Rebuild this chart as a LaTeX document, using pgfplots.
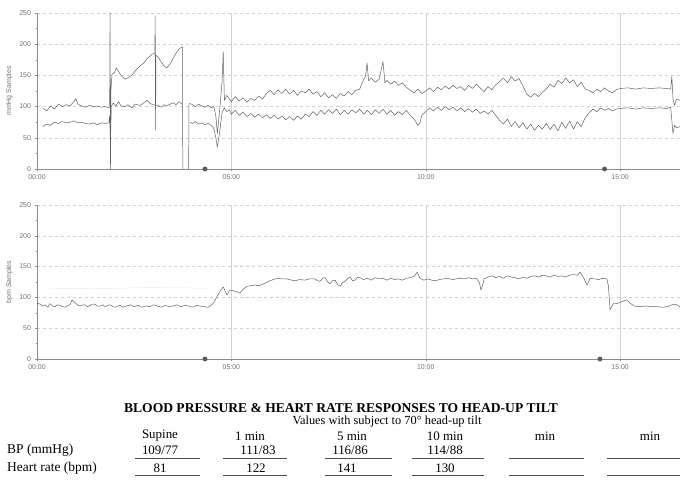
\documentclass[border=0pt]{standalone}
\usepackage{fontspec}
\setmainfont{Liberation Serif}
\newfontfamily\axfont{Liberation Sans}
\usepackage{pgfplots}
\pgfplotsset{compat=1.18}
\definecolor{gridc}{gray}{0.82}
\definecolor{axc}{gray}{0.55}
\definecolor{labc}{gray}{0.45}
\pgfplotsset{
  panel/.style={
    scale only axis, width=643bp, anchor=south west,
    xmin=0, xmax=16.54, ymin=0, ymax=250,
    axis lines*=left,
    axis line style={axc, line width=0.6pt},
    xtick={0,5,10,15},
    ytick={0,50,100,150,200,250},
    minor y tick num=1,
    xmajorgrids, ymajorgrids,
    major x grid style={gridc, line width=0.5pt},
    major y grid style={gridc, dashed, line width=0.5pt},
    tick style={axc, line width=0.5pt},
    tick align=outside,
    major tick length=2.5bp, minor tick length=1.5bp,
    tick label style={font=\axfont\fontsize{7}{8}\selectfont, text=labc},
    /pgf/number format/assume math mode=true,
    ylabel style={font=\axfont\fontsize{7}{8}\selectfont, text=labc},
    clip=false,
  },
  dline/.style={black!62, line width=0.5pt, line join=round},
}
\begin{document}
\begin{tikzpicture}
\path[use as bounding box] (0,0) rectangle (687bp,486bp);
% ---------------- top panel: blood pressure ----------------
\begin{axis}[panel, at={(37bp,317bp)}, height=156bp,
  xticklabels={00:00,05:00,10:00,15:00}, ylabel={mmHg Samples}]
% systolic, first segment
\addplot[dline] coordinates {(0.15,98)(0.25,93)(0.35,101)(0.45,96)(0.55,104)(0.65,100)(0.75,103)(0.85,101)(0.95,108)(1.0,113)(1.05,104)(1.15,101)(1.25,99)(1.35,102)(1.45,100)(1.55,101)(1.65,99)(1.75,100)(1.85,98)(1.87,110)(1.88,250)(1.89,0)(1.90,125)(1.93,152)(2.0,155)(2.04,162)(2.08,158)(2.16,150)(2.26,144)(2.34,146)(2.44,150)(2.52,157)(2.65,165)(2.75,170)(2.83,177)(2.91,181)(2.98,185)(3.03,184)(3.04,245)(3.05,62)(3.06,182)(3.11,180)(3.19,172)(3.27,165)(3.34,162)(3.42,168)(3.50,177)(3.58,186)(3.65,192)(3.73,196)(3.745,195)(3.75,0)};
% diastolic, first segment
\addplot[dline] coordinates {(0.15,68)(0.25,72)(0.35,70)(0.45,75)(0.55,73)(0.65,76)(0.75,74)(0.85,75)(0.95,77)(1.05,74)(1.15,75)(1.25,73)(1.35,72)(1.45,74)(1.55,71)(1.65,74)(1.75,73)(1.85,74)(1.87,85)(1.89,35)(1.91,100)(1.96,106)(2.03,101)(2.1,108)(2.16,101)(2.26,100)(2.34,103)(2.44,98)(2.52,104)(2.65,102)(2.75,106)(2.83,110)(2.91,105)(2.98,103)(3.11,102)(3.19,99)(3.27,103)(3.34,101)(3.42,104)(3.50,106)(3.58,103)(3.65,108)(3.73,104)};
% systolic, second segment
\addplot[dline] coordinates {(3.90,0)(3.91,104)(3.94,105)(4.0,103)(4.08,100)(4.16,104)(4.24,101)(4.32,99)(4.40,102)(4.48,98)(4.55,100)(4.60,85)(4.64,57)(4.70,95)(4.76,140)(4.79,188)(4.82,110)(4.88,118)(4.95,112)(5.0,108)(5.1,116)(5.2,109)(5.3,114)(5.4,107)(5.5,113)(5.6,110)(5.7,117)(5.8,112)(5.9,121)(6.0,126)(6.1,119)(6.2,127)(6.3,121)(6.4,128)(6.5,120)(6.6,126)(6.7,118)(6.8,125)(6.9,122)(7.0,128)(7.1,120)(7.2,124)(7.3,116)(7.4,122)(7.5,114)(7.6,119)(7.7,113)(7.8,121)(7.9,117)(8.0,124)(8.1,119)(8.2,126)(8.3,128)(8.4,143)(8.45,148)(8.49,170)(8.53,141)(8.6,146)(8.7,139)(8.8,144)(8.9,172)(8.95,138)(9.0,142)(9.1,136)(9.2,141)(9.3,134)(9.4,138)(9.5,131)(9.6,126)(9.7,122)(9.8,128)(9.9,121)(10.0,125)(10.1,130)(10.2,124)(10.3,131)(10.4,127)(10.5,133)(10.6,128)(10.7,134)(10.8,129)(10.9,132)(11.0,126)(11.1,134)(11.2,129)(11.3,136)(11.4,130)(11.5,124)(11.6,132)(11.7,127)(11.8,135)(11.9,140)(12.0,146)(12.1,138)(12.2,148)(12.3,141)(12.4,145)(12.5,133)(12.6,120)(12.7,115)(12.8,121)(12.9,116)(13.0,123)(13.1,128)(13.2,136)(13.3,131)(13.4,142)(13.5,137)(13.6,146)(13.7,138)(13.8,143)(13.9,132)(14.0,139)(14.1,128)(14.2,126)(14.3,122)(14.4,128)(14.5,124)(14.6,130)(14.7,125)(14.8,122)(14.9,127)(15.0,129)(15.2,130)(15.4,128)(15.6,130)(15.8,129)(16.0,130)(16.2,129)(16.3,128)(16.33,148)(16.36,113)(16.4,102)(16.45,112)(16.54,110)};
% diastolic, second segment
\addplot[dline] coordinates {(3.94,75)(4.0,73)(4.08,76)(4.16,72)(4.24,74)(4.32,71)(4.40,73)(4.48,70)(4.55,65)(4.60,50)(4.64,35)(4.70,60)(4.76,90)(4.82,98)(4.88,92)(4.95,95)(5.0,88)(5.1,94)(5.2,86)(5.3,91)(5.4,84)(5.5,89)(5.6,83)(5.7,88)(5.8,82)(5.9,87)(6.0,81)(6.1,86)(6.2,80)(6.3,85)(6.4,79)(6.5,84)(6.6,78)(6.7,85)(6.8,80)(6.9,88)(7.0,84)(7.1,92)(7.2,86)(7.3,94)(7.4,88)(7.5,95)(7.6,89)(7.7,96)(7.8,87)(7.9,94)(8.0,88)(8.1,95)(8.2,90)(8.3,96)(8.4,88)(8.5,94)(8.6,87)(8.7,95)(8.8,89)(8.9,96)(9.0,88)(9.1,94)(9.2,86)(9.3,92)(9.4,87)(9.5,94)(9.6,86)(9.7,80)(9.8,70)(9.85,74)(9.9,86)(10.0,92)(10.1,98)(10.2,93)(10.3,99)(10.4,94)(10.5,100)(10.6,95)(10.7,99)(10.8,93)(10.9,98)(11.0,92)(11.1,97)(11.2,91)(11.3,96)(11.4,89)(11.5,93)(11.6,88)(11.7,94)(11.8,86)(11.9,78)(12.0,72)(12.1,80)(12.2,68)(12.3,76)(12.4,66)(12.5,74)(12.6,64)(12.7,72)(12.8,62)(12.9,70)(13.0,64)(13.1,73)(13.2,63)(13.3,72)(13.4,61)(13.5,75)(13.6,65)(13.7,77)(13.8,64)(13.9,76)(14.0,68)(14.1,82)(14.2,90)(14.3,96)(14.4,92)(14.5,98)(14.6,94)(14.7,97)(14.8,93)(14.9,96)(15.0,97)(15.2,98)(15.4,96)(15.6,98)(15.8,97)(16.0,98)(16.2,97)(16.3,99)(16.36,57)(16.4,70)(16.45,66)(16.54,68)};
% event markers
\addplot[only marks, mark=*, mark size=2.2bp, black!65] coordinates {(4.32,0)(14.6,0)};
\end{axis}
% ---------------- bottom panel: heart rate ----------------
\begin{axis}[panel, at={(37bp,127bp)}, height=154bp,
  xticklabels={00:00,05:00,10:00,15:00}, ylabel={bpm Samples}]
\addplot[gray!45, densely dotted, line width=0.5pt] coordinates {(0.3,115)(1.5,114)(2.8,116)(4.4,115)};
\addplot[gray!45, densely dotted, line width=0.5pt] coordinates {(5.0,152)(8.0,153)(11.0,152)(14.7,153)};
\addplot[gray!45, densely dotted, line width=0.5pt] coordinates {(5.3,100)(6.5,101)(7.9,100)};
\addplot[dline] coordinates {(0,91)(0.08,89)(0.15,86)(0.21,88)(0.28,84)(0.33,90)(0.4,86)(0.46,85)(0.53,88)(0.59,87)(0.66,85)(0.72,84)(0.79,87)(0.85,88)(0.9,96)(0.95,93)(1.0,90)(1.06,87)(1.11,86)(1.18,88)(1.23,88)(1.3,85)(1.36,87)(1.43,89)(1.49,89)(1.55,86)(1.62,86)(1.7,88)(1.75,85)(1.82,87)(1.88,88)(1.95,85)(2.0,84)(2.07,86)(2.14,87)(2.2,84)(2.3,86)(2.4,88)(2.5,85)(2.6,87)(2.7,84)(2.8,86)(2.9,85)(3.0,88)(3.1,86)(3.2,84)(3.3,87)(3.4,85)(3.5,86)(3.6,88)(3.7,85)(3.8,87)(3.9,86)(4.0,84)(4.1,87)(4.2,86)(4.3,85)(4.4,84)(4.45,86)(4.53,90)(4.63,101)(4.71,110)(4.79,117)(4.84,110)(4.89,104)(4.93,109)(4.97,112)(5.03,111)(5.09,110)(5.15,109)(5.22,107)(5.3,113)(5.4,118)(5.5,119)(5.61,120)(5.7,119)(5.79,121)(5.9,124)(5.99,127)(6.08,129)(6.17,131)(6.3,130)(6.43,130)(6.55,128)(6.64,127)(6.75,129)(6.89,128)(7.0,130)(7.15,130)(7.22,127)(7.28,126)(7.35,131)(7.41,132)(7.48,125)(7.54,122)(7.6,127)(7.67,128)(7.73,121)(7.80,118)(7.86,124)(7.92,126)(8.0,131)(8.05,133)(8.12,127)(8.18,128)(8.25,133)(8.31,132)(8.4,129)(8.5,131)(8.6,128)(8.7,132)(8.8,130)(8.9,131)(9.0,128)(9.1,131)(9.2,129)(9.3,130)(9.4,128)(9.5,131)(9.6,132)(9.7,134)(9.78,141)(9.85,131)(9.95,128)(10.05,130)(10.15,128)(10.25,127)(10.35,129)(10.45,130)(10.55,131)(10.7,129)(10.85,131)(11.0,130)(11.1,132)(11.2,130)(11.3,131)(11.38,124)(11.42,112)(11.47,121)(11.5,130)(11.6,133)(11.7,135)(11.8,132)(11.9,134)(12.0,131)(12.1,135)(12.2,133)(12.3,132)(12.4,130)(12.5,133)(12.6,131)(12.7,134)(12.8,135)(12.9,133)(13.0,136)(13.1,135)(13.2,133)(13.3,136)(13.4,134)(13.5,135)(13.6,133)(13.7,136)(13.8,137)(13.9,136)(13.97,141)(14.05,133)(14.15,120)(14.23,131)(14.35,130)(14.45,129)(14.55,131)(14.66,130)(14.7,118)(14.74,80)(14.79,86)(14.84,91)(14.92,90)(15.0,92)(15.08,94)(15.17,96)(15.25,91)(15.36,86)(15.5,85)(15.65,86)(15.8,85)(15.95,85)(16.1,84)(16.2,85)(16.3,87)(16.38,89)(16.46,88)(16.54,85)};
\addplot[only marks, mark=*, mark size=2.2bp, black!65] coordinates {(4.32,0)(14.48,0)};
\end{axis}
% ---------------- table ----------------
\node[font=\bfseries\fontsize{13.6}{15}\selectfont, inner sep=0] at (341bp,78bp) {BLOOD PRESSURE \& HEART RATE RESPONSES TO HEAD-UP TILT};
\node[font=\fontsize{12.4}{14}\selectfont, inner sep=0] at (387bp,64bp) {Values with subject to 70° head-up tilt};
\begin{scope}[every node/.style={font=\fontsize{13}{15}\selectfont, inner sep=0}]
\node at (160bp,50bp) {Supine};
\node at (250bp,50bp) {1 min};
\node at (352bp,50bp) {5 min};
\node at (445bp,50bp) {10 min};
\node at (545bp,50bp) {min};
\node at (650bp,50bp) {min};
\node at (160bp,36bp) {109/77};
\node at (258bp,36bp) {111/83};
\node at (350bp,36bp) {116/86};
\node at (445bp,36bp) {114/88};
\node at (160bp,18bp) {81};
\node at (256bp,18bp) {122};
\node at (347bp,18bp) {141};
\node at (445bp,18bp) {130};
\end{scope}
\node[anchor=west, font=\fontsize{13.5}{15}\selectfont, inner sep=0] at (7bp,36bp) {BP (mmHg)};
\node[anchor=west, font=\fontsize{13.5}{15}\selectfont, inner sep=0] at (7bp,18bp) {Heart rate (bpm)};
\foreach \a/\b in {135/200,223/287,325/392,412/484,509/584,607/680}{
  \draw[black!70, line width=0.6pt] (\a bp,28bp) -- (\b bp,28bp);
  \draw[black!70, line width=0.6pt] (\a bp,11bp) -- (\b bp,11bp);
}
\end{tikzpicture}
\end{document}
